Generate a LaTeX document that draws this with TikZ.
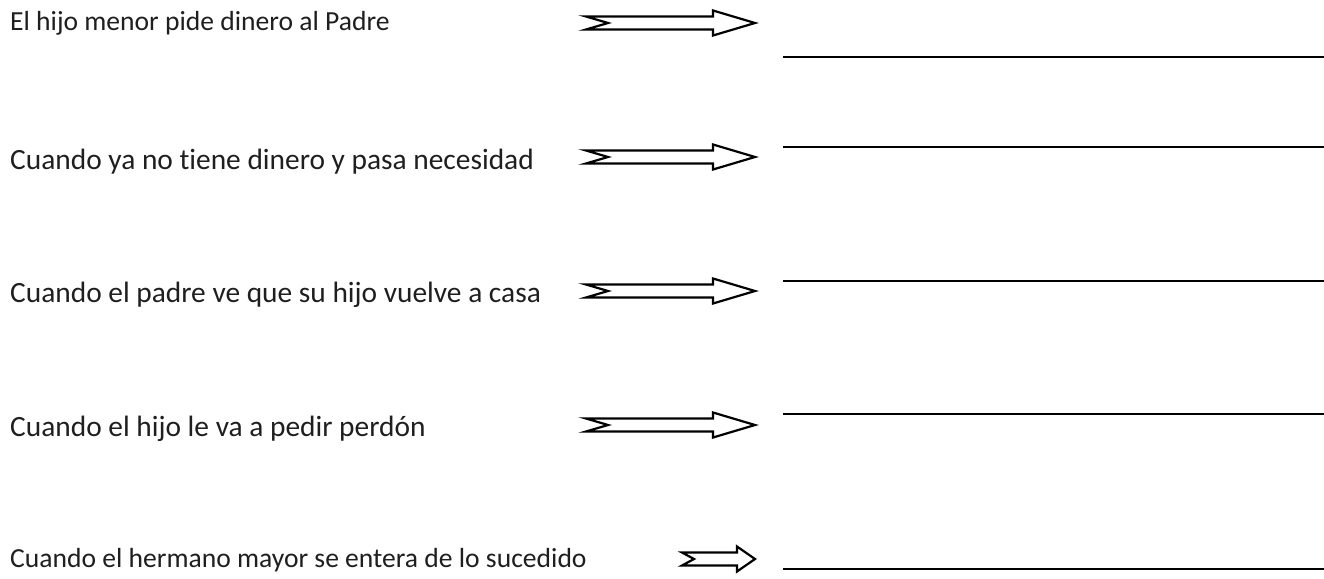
\documentclass[tikz,border=0pt]{standalone}
\usepackage{fontspec}
\setmainfont{Carlito}[RawFeature={-liga}]
\begin{document}
\begin{tikzpicture}[x=1pt,y=-1pt,
  lbl/.style={anchor=base west,inner sep=0pt,font=\fontsize{27.6}{32}\selectfont,text=black!88},
  lblbig/.style={lbl,font=\fontsize{29.4}{34}\selectfont},
  fatarrow/.style={draw=black,line width=2.2pt,line join=miter,fill=white},
  blank/.style={draw=black,line width=1.8pt}]
\useasboundingbox[fill=white] (0,0) rectangle (1324,578);
% arrow macro: #1 left x, #2 notch x, #3 head start x, #4 tip x, #5 centre y
\newcommand\myfatarrow[5]{%
  \draw[fatarrow] (#1,#5-6.5) -- (#3,#5-6.5) -- (#3,#5-12.5) -- (#4,#5) -- (#3,#5+12.5) -- (#3,#5+6.5) -- (#1,#5+6.5) -- (#2,#5) -- cycle;}
\node[lbl] (t1) at (10,31) {El hijo menor pide dinero al Padre};
\node[lblbig] (t2) at (10,169) {Cuando ya no tiene dinero y pasa necesidad};
\node[lblbig] (t3) at (10,302) {Cuando el padre ve que su hijo vuelve a casa};
\node[lblbig] (t4) at (10,436) {Cuando el hijo le va a pedir perdón};
\node[lbl] (t5) at (10,567) {Cuando el hermano mayor se entera de lo sucedido};
\myfatarrow{586}{608}{713}{755}{23}
\myfatarrow{586}{608}{713}{755}{157}
\myfatarrow{586}{608}{713}{755}{291}
\myfatarrow{586}{608}{713}{755}{425}
\myfatarrow{682}{694}{737}{755}{559}
\coordinate (a1) at (783,57); \coordinate (b1) at (1324,57);
\coordinate (a2) at (783,147); \coordinate (b2) at (1324,147);
\coordinate (a3) at (783,281); \coordinate (b3) at (1324,281);
\coordinate (a4) at (783,414); \coordinate (b4) at (1324,414);
\coordinate (a5) at (783,569); \coordinate (b5) at (1324,569);
\foreach \i in {1,...,5} {\draw[blank] (a\i) -- (b\i);}
\end{tikzpicture}
\end{document}
